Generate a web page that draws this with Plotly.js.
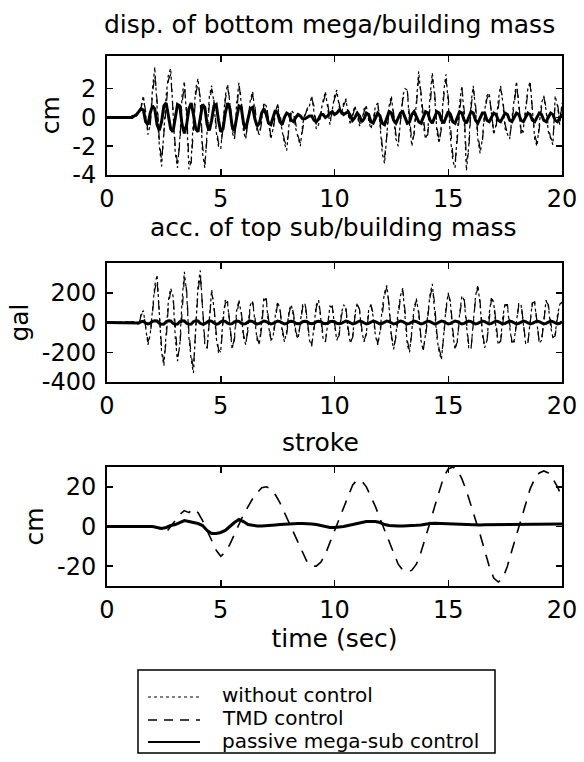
<!DOCTYPE html>
<html>
<head>
<meta charset="utf-8">
<script src="https://cdn.plot.ly/plotly-3.0.1.min.js"></script>
<style>html,body{margin:0;padding:0;background:#fff;}#chart{width:584px;height:762px;}</style>
</head>
<body>
<div id="chart"></div>
<script>
// ---------- DATA ----------
// panels 1 and 2 sampled every 0.1 s from 0 to 20 s; panel 3 every 0.2 s
const dispTime0 = 0, dispStep = 0.1;
const strokeTime0 = 0, strokeStep = 0.2;
const xTicks = [0, 5, 10, 15, 20];
const dispTicks = [-4, -2, 0, 2];
const dispTickText = ["-4", "-2", "0", "2"];
const accTicks = [-400, -200, 0, 200];
const accTickText = ["-400", "-200", "0", "200"];
const strokeTicks = [-20, 0, 20];
const strokeTickText = ["-20", "0", "20"];
const legendNames = ["without control", "TMD control", "passive mega-sub control"];

// disp. of bottom mega/building mass (cm)
const dispWithout = [
0,0,0,0,0,0,0,0,0,0,0,
0.1,0.2,0.1,0.5,0.8,1.5,0.3,-1.2,-0.5,2.0,
3.5,1.0,-2.0,-3.4,-1.0,1.5,3.0,3.4,0.5,-2.5,
-3.5,-1.5,1.5,2.5,0.0,-3.6,-3.0,0.0,2.0,2.7,
1.0,-2.5,-3.5,-1.0,1.5,2.2,1.0,-1.0,-2.0,-2.2,
-0.5,1.5,2.3,1.0,-1.0,-1.5,1.0,2.4,1.0,-1.0,
-1.5,0.0,1.2,1.8,0.5,-1.0,-1.2,0.0,1.0,0.8,
-0.5,-1.5,-0.8,0.5,0.8,0.0,-1.0,-1.8,-2.3,-0.5,
0.5,0.3,-0.8,-1.5,-2.0,-0.5,0.3,0.5,0.8,1.5,
0.5,-0.8,-0.5,0.5,1.2,1.8,0.8,-0.5,0.5,1.5,
1.9,0.8,0.2,1.0,1.3,0.2,-0.5,0.3,0.8,0.2,
-0.6,-0.3,0.6,0.8,-0.2,-0.8,-0.2,0.8,1.0,-0.5,
-2.5,-3.2,-1.0,0.8,1.5,0.0,-1.5,-2.0,0.0,1.5,
2.0,1.9,-0.5,-2.0,-1.0,1.5,3.2,1.5,-0.5,-1.5,
-1.0,1.5,3.1,1.5,-1.0,-1.8,-0.5,1.8,3.0,1.0,
-1.5,-3.0,-3.5,-1.0,1.0,2.2,0.0,-3.7,-2.0,1.0,
2.2,0.5,-1.5,-2.5,-1.5,0.5,1.5,1.7,0.0,-1.2,
-0.5,1.2,2.2,1.0,-0.8,-1.2,-1.5,0.0,1.5,2.5,
0.8,-1.2,-0.8,0.8,2.0,2.5,0.5,-1.5,-2.0,-0.5,
1.0,1.5,0.5,-1.0,-1.5,-1.9,1.5,0.8,-0.5,1.0];
const dispTMD = [
0,0,0,0,0,0,0,0,0,0,0,
0.1,0.2,0.1,0.4,0.7,1.3,0.4,-1.0,-0.6,1.6,
3.0,1.2,-1.6,-3.0,-1.2,1.2,2.6,3.0,0.8,-2.0,
-3.2,-1.8,1.0,2.2,0.5,-3.0,-3.2,-0.5,1.6,2.4,
1.4,-2.0,-3.2,-1.4,1.0,2.0,1.2,-0.6,-1.8,-2.0,
-0.8,1.2,2.1,1.2,-0.6,-1.6,0.6,2.2,1.3,-0.6,
-1.4,-0.3,1.0,1.6,0.8,-0.7,-1.3,-0.3,0.9,1.0,
-0.2,-1.3,-1.0,0.3,0.9,0.3,-0.8,-1.6,-2.0,-0.8,
0.3,0.4,-0.5,-1.3,-1.8,-0.8,0.1,0.6,0.9,1.3,
0.8,-0.5,-0.6,0.3,1.0,1.6,1.0,-0.2,0.3,1.3,
1.7,1.0,0.3,0.8,1.2,0.5,-0.3,0.1,0.7,0.4,
-0.4,-0.4,0.4,0.8,0.1,-0.6,-0.4,0.6,1.0,-0.2,
-2.0,-2.8,-1.3,0.5,1.3,0.3,-1.2,-1.8,-0.3,1.2,
1.8,1.9,0.0,-1.7,-1.2,1.0,2.8,1.8,-0.1,-1.4,
-1.2,1.0,2.7,1.8,-0.6,-1.7,-0.8,1.4,2.6,1.4,
-1.0,-2.6,-3.2,-1.4,0.6,2.0,0.5,-3.0,-2.4,0.6,
2.0,0.9,-1.2,-2.2,-1.7,0.2,1.3,1.6,0.3,-1.0,
-0.7,0.9,2.0,1.3,-0.5,-1.1,-1.4,-0.3,1.2,2.2,
1.1,-0.9,-1.0,0.5,1.8,2.3,0.8,-1.2,-1.8,-0.8,
0.7,1.4,0.7,-0.7,-1.4,-1.7,1.0,1.0,-0.2,0.8];
const dispPassive = [
0,0,0,0,0,0,0,0,0,0,0,
0.0,0.1,0.2,0.4,0.6,0.5,-0.3,-0.5,0.3,0.8,
0.6,-0.5,-0.9,-0.3,0.8,1.0,0.2,-0.8,-1.0,0.0,
0.9,0.8,-0.5,-1.1,-0.5,0.6,1.0,0.2,-0.8,-1.0,
0.0,0.9,0.7,-0.5,-0.9,-0.2,0.8,0.9,-0.2,-1.0,
-0.8,0.3,1.0,0.6,-0.6,-0.9,0.0,0.8,0.7,-0.4,
-0.8,-0.2,0.6,0.7,-0.1,-0.6,-0.4,0.3,0.6,0.2,
-0.4,-0.5,0.1,0.5,0.3,-0.3,-0.5,0.0,0.3,0.2,
-0.2,-0.3,0.0,0.2,0.1,-0.1,-0.1,0.0,0.1,0.1,
-0.2,-0.3,-0.1,0.2,0.2,0.0,0.1,0.3,0.4,0.2,
0.3,0.5,0.4,0.2,0.3,0.4,0.1,-0.2,0.0,0.3,
0.1,-0.3,-0.1,0.3,0.2,-0.3,-0.4,0.0,0.3,0.1,
-0.4,-0.5,0.0,0.4,0.3,-0.2,-0.4,-0.1,0.3,0.4,
0.0,-0.4,-0.3,0.2,0.4,0.1,-0.3,-0.4,0.0,0.4,
0.3,-0.2,-0.4,0.0,0.4,0.3,-0.2,-0.4,0.0,0.4,
0.2,-0.3,-0.4,0.0,0.4,0.3,-0.2,-0.4,0.0,0.4,
0.3,-0.2,-0.4,0.0,0.3,0.3,-0.2,-0.3,0.0,0.3,
0.2,-0.2,-0.3,0.0,0.3,0.2,-0.2,-0.3,0.0,0.3,
0.2,-0.2,-0.3,0.0,0.3,0.2,-0.2,-0.3,0.0,0.3,
0.2,-0.2,-0.3,0.0,0.3,0.2,-0.2,-0.3,0.0,0.2];

// acc. of top sub/building mass (gal)
const accWithout = [
0,0,0,0,0,0,0,0,0,0,0,
0,0,5,-20,60,80,-50,-150,-80,100,
250,320,50,-200,-290,-100,150,230,180,-100,
-260,-150,150,340,200,-100,-250,-340,0,250,
350,100,-150,-170,50,220,100,-100,-200,-190,
30,150,130,-50,-180,-100,80,150,60,-100,
-150,-20,120,140,20,-120,-140,0,170,150,
-20,-120,-100,50,140,90,-60,-130,-60,80,
120,40,-80,-110,0,120,130,10,-120,-160,
-30,120,150,20,-110,-130,0,110,100,-20,
-120,-80,60,120,90,-60,-140,-90,60,130,
80,-60,-130,-70,80,120,40,-90,-150,-60,
100,200,250,100,-100,-180,-80,80,180,230,
50,-150,-200,-50,100,160,60,-120,-190,-80,
80,190,260,100,-100,-200,-250,-80,100,200,
120,-80,-180,-120,60,180,150,-20,-170,-180,
0,180,250,120,-80,-170,-120,60,170,130,
-40,-150,-120,40,130,110,-30,-140,-120,20,
130,120,-20,-140,-130,20,140,130,-10,-140,
-120,30,150,110,-30,-100,-80,50,120,150];
const accTMD = [
0,0,0,0,0,0,0,0,0,0,0,
0,0,4,-15,50,70,-40,-130,-90,80,
220,290,80,-170,-270,-120,120,210,190,-60,
-230,-170,110,300,220,-60,-220,-310,-40,210,
320,130,-120,-180,20,200,120,-70,-180,-200,
0,130,140,-20,-160,-120,50,140,80,-80,
-140,-50,100,140,40,-100,-150,-30,150,160,
10,-110,-110,30,130,100,-40,-120,-80,60,
120,60,-60,-110,-20,100,140,30,-100,-150,
-50,100,150,40,-90,-130,-20,100,110,0,
-110,-90,40,110,100,-40,-130,-100,40,120,
90,-40,-120,-80,60,120,60,-70,-140,-80,
70,180,240,120,-80,-170,-100,60,170,220,
80,-120,-190,-70,80,150,80,-100,-180,-100,
60,170,240,130,-70,-180,-230,-100,80,190,
140,-50,-170,-130,40,160,160,0,-150,-180,
-20,160,240,140,-60,-160,-130,40,160,140,
-20,-140,-130,20,120,120,-10,-130,-130,0,
120,130,0,-130,-140,0,130,140,10,-130,
-130,10,140,120,-10,-100,-90,30,110,140];
const accPassive = [
0,0,0,0,0,0,0,0,0,0,0,
0,0,2,-3,5,8,-5,-10,-5,8,
12,10,-5,-12,-10,5,12,10,-5,-12,
-10,5,12,10,-5,-12,-10,5,12,10,
-5,-12,-8,5,12,8,-5,-12,-8,5,
10,8,-5,-10,-8,5,10,8,-5,-10,
-8,5,10,6,-5,-10,-6,5,10,6,
-5,-10,-6,5,10,6,-5,-10,-6,5,
8,5,-5,-8,-5,5,8,5,-5,-8,
-5,5,8,5,-5,-8,-5,5,8,5,
-5,-8,-5,5,10,6,-5,-10,-6,5,
10,6,-5,-10,-6,5,10,6,-5,-10,
-6,5,10,6,-5,-10,-6,5,10,6,
-5,-10,-6,5,10,6,-5,-10,-6,5,
10,6,-5,-10,-6,5,10,6,-5,-10,
-6,5,10,6,-5,-10,-6,5,10,6,
-5,-10,-6,5,10,6,-5,-10,-6,5,
10,6,-5,-10,-6,5,10,6,-5,-10,
-6,5,10,6,-5,-10,-6,5,10,6,
-5,-10,-6,5,10,6,-5,-10,-6,5];

// stroke (cm)
const strokeTMD = [
0,0,0,0,0,0,0,0,0,0,0,
-0.5,-1.5,-3,0,3,6,8,7,9,7,
3,-2,-7,-12,-15,-13,-9,-4,1,6,
10,14,17,19.5,20,19,16,12,7,2,
-3,-8,-13,-18,-20,-20,-18,-14,-8,-2,
4,10,16,21,23.5,23,20,15,10,4,
-2,-8,-14,-19,-22,-23,-22,-19,-13,-6,
2,10,18,25,29,30,28.5,24,18,11,
4,-4,-12,-20,-26,-28,-26,-20,-12,-4,
4,12,19,24,27,28,27,24,20,15];
const strokePassive = [
0,0,0,0,0,0,0,0,0,0,0,
-0.5,-1,-0.5,0.5,1,2,3,2.5,2,1.5,
0.5,-2,-3.5,-3.5,-3,-2,0,2,3.5,2.5,
1,0.5,0.3,0.2,0.3,0.5,0.8,1,1.2,1.3,
1.4,1.5,1.5,1.5,1.3,1,0.5,0,-0.5,-0.5,
-0.3,0,0.5,1,1.5,2,2.5,2.5,2.5,2,
1,0.5,0.3,0.3,0.3,0.3,0.4,0.6,0.8,1.2,
1.5,1.6,1.5,1.3,1.2,1.1,1,1,0.9,0.8,
0.8,0.8,0.9,0.9,1,1,1,1.1,1.1,1.2,
1.2,1.1,1,1,1.1,1.2,1.2,1.2,1.2,1.2];

// ---------- STYLE ----------
const FONT = "DejaVu Sans, Liberation Sans, Arial, sans-serif";
const W = 584, H = 762;
const px = v => v / W;           // horizontal pixel -> paper
const py = v => (H - v) / H;     // vertical pixel (from top) -> paper

const dotLine = {color: "#000", width: 1.2, dash: "dot"};
const dashLine = {color: "#000", width: 1.2, dash: "dash"};
const solidLine = {color: "#000", width: 3};
const longDash = {color: "#000", width: 1.6, dash: "12px,9px"};

function tr(y, x0, dx, xa, ya, line, name) {
  return {type: "scatter", mode: "lines", y: y, x0: x0, dx: dx,
          xaxis: xa, yaxis: ya, line: line, name: name, showlegend: false,
          hoverinfo: "skip"};
}

const data = [
  tr(dispWithout, dispTime0, dispStep, "x", "y", dotLine, legendNames[0]),
  tr(dispTMD, dispTime0, dispStep, "x", "y", dashLine, legendNames[1]),
  tr(dispPassive, dispTime0, dispStep, "x", "y", solidLine, legendNames[2]),
  tr(accWithout, dispTime0, dispStep, "x2", "y2", dotLine, legendNames[0]),
  tr(accTMD, dispTime0, dispStep, "x2", "y2", dashLine, legendNames[1]),
  tr(accPassive, dispTime0, dispStep, "x2", "y2", solidLine, legendNames[2]),
  tr(strokeTMD, strokeTime0, strokeStep, "x3", "y3", longDash, legendNames[1]),
  tr(strokePassive, strokeTime0, strokeStep, "x3", "y3", solidLine, legendNames[2])
];

const TICKSIZE = 24, TITLESIZE = 25;
const xDom = [px(107), px(562)];
function xax(anchor, title) {
  const a = {domain: xDom, anchor: anchor, range: [0, 20], tickvals: xTicks,
    ticks: "inside", ticklen: 6, tickwidth: 1.5, tickcolor: "#000",
    mirror: "allticks", showline: true, linewidth: 2, linecolor: "#000",
    showgrid: false, zeroline: false, fixedrange: true,
    ticklabelstandoff: 1,
    tickfont: {family: FONT, size: TICKSIZE, color: "#000"}};
  if (title) a.title = {text: title, font: {family: FONT, size: TITLESIZE, color: "#000"}, standoff: 4};
  return a;
}
function yax(anchor, dom, range, tickvals, ticktext, title) {
  return {domain: dom, anchor: anchor, range: range, tickvals: tickvals, ticktext: ticktext,
    ticks: "inside", ticklen: 6, tickwidth: 1.5, tickcolor: "#000",
    mirror: "allticks", showline: true, linewidth: 2, linecolor: "#000",
    showgrid: false, zeroline: false, fixedrange: true,
    ticklabelstandoff: 4,
    tickfont: {family: FONT, size: TICKSIZE, color: "#000"},
    title: {text: title, font: {family: FONT, size: TITLESIZE, color: "#000"}, standoff: 6}};
}

const legendFont = {family: FONT, size: 20, color: "#000"};
const layout = {
  width: W, height: H,
  margin: {l: 0, r: 0, t: 0, b: 0},
  paper_bgcolor: "#fff", plot_bgcolor: "#fff",
  showlegend: false,
  xaxis: xax("y"),
  yaxis: yax("x", [py(175), py(55.5)], [-4, 4.3], dispTicks, dispTickText, "cm"),
  xaxis2: xax("y2"),
  yaxis2: yax("x2", [py(382), py(263)], [-400, 400], accTicks, accTickText, "gal"),
  xaxis3: xax("y3", "time (sec)"),
  yaxis3: yax("x3", [py(586), py(467)], [-30, 30], strokeTicks, strokeTickText, "cm"),
  annotations: [
    {text: "disp. of bottom mega/building mass", xref: "paper", yref: "paper",
     x: px(329), y: py(24), xanchor: "center", yanchor: "middle", showarrow: false,
     font: {family: FONT, size: TITLESIZE, color: "#000"}},
    {text: "acc. of top sub/building mass", xref: "paper", yref: "paper",
     x: px(333), y: py(227), xanchor: "center", yanchor: "middle", showarrow: false,
     font: {family: FONT, size: TITLESIZE, color: "#000"}},
    {text: "stroke", xref: "paper", yref: "paper",
     x: px(320), y: py(443), xanchor: "center", yanchor: "middle", showarrow: false,
     font: {family: FONT, size: TITLESIZE, color: "#000"}},
    {text: legendNames[0], xref: "paper", yref: "paper", x: px(220), y: py(695),
     xanchor: "left", yanchor: "middle", showarrow: false, font: legendFont},
    {text: legendNames[1], xref: "paper", yref: "paper", x: px(220), y: py(718),
     xanchor: "left", yanchor: "middle", showarrow: false, font: legendFont},
    {text: legendNames[2], xref: "paper", yref: "paper", x: px(220), y: py(741),
     xanchor: "left", yanchor: "middle", showarrow: false, font: legendFont}
  ],
  shapes: [
    {type: "rect", xref: "paper", yref: "paper", x0: px(138), x1: px(495), y0: py(753), y1: py(670),
     line: {color: "#000", width: 1.5}, fillcolor: "rgba(0,0,0,0)"},
    {type: "line", xref: "paper", yref: "paper", x0: px(148), x1: px(200), y0: py(697), y1: py(697), line: {color: "#000", width: 1.2, dash: "dot"}},
    {type: "line", xref: "paper", yref: "paper", x0: px(148), x1: px(200), y0: py(720), y1: py(720), line: {color: "#000", width: 1.5, dash: "9px,7px"}},
    {type: "line", xref: "paper", yref: "paper", x0: px(148), x1: px(200), y0: py(742), y1: py(742), line: {color: "#000", width: 1.8}}
  ]
};

Plotly.newPlot("chart", data, layout, {staticPlot: true, displayModeBar: false});
</script>
</body>
</html>
